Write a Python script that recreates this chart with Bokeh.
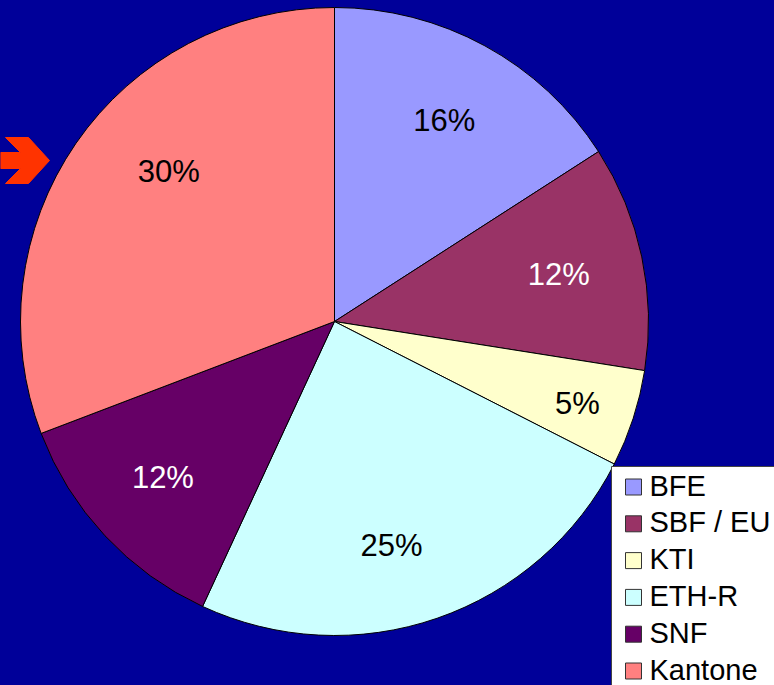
import math
from bokeh.plotting import figure
from bokeh.models import Range1d, ColumnDataSource
from bokeh.core.properties import value
from bokeh.embed import file_html
from bokeh.resources import INLINE

# ---- data ----
categories = ["BFE", "SBF / EU", "KTI", "ETH-R", "SNF", "Kantone"]
shares = [15.9, 11.6, 5.0, 24.4, 12.3, 30.8]
labels = ["16%", "12%", "5%", "25%", "12%", "30%"]
colors = ["#9999FF", "#993366", "#FFFFCC", "#CCFFFF", "#660066", "#FF8080"]
label_colors = ["black", "white", "black", "black", "white", "black"]

W, H = 774, 685
BG = "#000099"
FONT = value("Liberation Sans")

def Y(py):
    return H - py

p = figure(width=W, height=H, output_backend="svg", toolbar_location=None,
           x_range=Range1d(0, W), y_range=Range1d(0, H), min_border=0)
p.axis.visible = False
p.grid.visible = False
p.outline_line_color = None
p.background_fill_color = BG
p.border_fill_color = BG

cx, cy, R = 334, Y(321), 314
total = sum(shares)
starts, ends, mids = [], [], []
acc = 0.0
for s in shares:
    a0 = 90 - acc / total * 360
    acc += s
    a1 = 90 - acc / total * 360
    starts.append(a0)
    ends.append(a1)
    mids.append((a0 + a1) / 2)

src = ColumnDataSource(dict(start=starts, end=ends, color=colors))
p.wedge(x=cx, y=cy, radius=R, start_angle="start", end_angle="end",
        start_angle_units="deg", end_angle_units="deg", direction="clock",
        fill_color="color", line_color="black", line_width=1, source=src)

# label placement: mid-angle at 0.73 R, with small layout nudges (pixels)
nudge = [(0, 0), (0, 0), (25, 11), (-18, 7), (-4, 0), (23, -20)]
lr = 0.73 * R
lx = [cx + lr * math.cos(math.radians(m)) + n[0] for m, n in zip(mids, nudge)]
ly = [cy + lr * math.sin(math.radians(m)) - n[1] for m, n in zip(mids, nudge)]
p.text(x=lx, y=ly, text=labels, text_color=label_colors, text_font=FONT,
       text_font_size="31px", text_align="center", text_baseline="middle")

# ---- arrow (decorative) ----
ax, ay = 0, Y(160)
shape = [(0, 8), (20, 8), (5, 23), (28, 23), (49, 0), (28, -23), (5, -23), (20, -8), (0, -8)]
p.patch(x=[ax + dx for dx, dy in shape], y=[ay + dy for dx, dy in shape],
        fill_color="#FF3300", line_color="#FF3300")

# ---- legend ----
lx0, ly0 = 611, 466
p.quad(left=lx0, right=W + 5, top=Y(ly0), bottom=-5, fill_color="white",
       line_color="#444444", line_width=1)
row0, step, sq = 486.5, 36.8, 16
rows = [Y(row0 + i * step) for i in range(len(categories))]
p.rect(x=[633] * len(rows), y=rows, width=sq, height=sq, fill_color=colors,
       line_color="#333333", line_width=1)
p.text(x=[649] * len(rows), y=[r + 1.5 for r in rows], text=categories, text_color="black",
       text_font=FONT, text_font_size="29px", text_align="left",
       text_baseline="middle")

html = file_html(p, INLINE)
html = html.replace("<head>", "<head><style>html,body{margin:0;padding:0;overflow:hidden;background:%s}</style>" % BG, 1)
open("out.html", "w").write(html)
